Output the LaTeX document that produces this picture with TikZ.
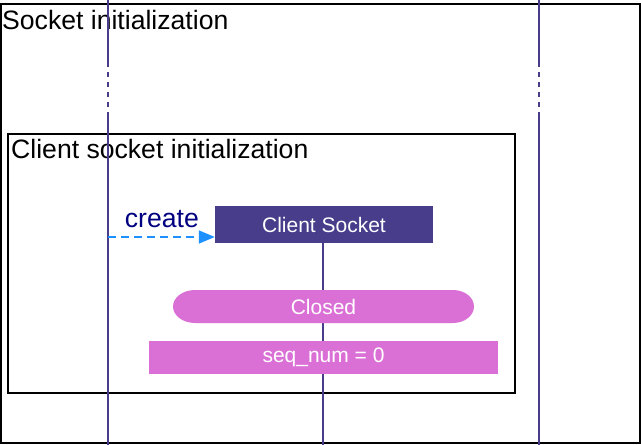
\documentclass[tikz,border=0pt]{standalone}
\usepackage{fontspec}
\setmainfont{Liberation Sans}
\usetikzlibrary{calc}
\usetikzlibrary{arrows.meta}

\definecolor{lifeblue}{RGB}{72,61,139}
\definecolor{orchidfill}{RGB}{218,112,214}
\definecolor{createblue}{RGB}{30,144,255}
\definecolor{navytext}{RGB}{0,0,128}

\begin{document}
\begin{tikzpicture}[x=1pt,y=-1pt,
    lifeline/.style={draw=lifeblue,line width=1.6pt},
    framebox/.style={draw=black,line width=2pt},
    bigtext/.style={inner sep=0pt,font=\fontsize{26.6}{30}\selectfont},
    statebox/.style={fill=orchidfill,text=white,inner sep=0pt,font=\fontsize{21}{25}\selectfont}]
            % Define the positions of the lifelines
            \def\xa{108}  % client side
            \def\xb{323}  % client socket
            \def\xc{539}  % server side
            \def\dtop{62} % dashed part starts
            \def\dbot{113} % dashed part ends

            \useasboundingbox (0,0) rectangle (641,445);

            % Draw the frames
            \draw[framebox] (1,4) rectangle (640,443);
            \draw[framebox,line width=2.4pt] (8,134) rectangle (515,393);

            % Frame titles
            \node[bigtext,anchor=base west] (sockinit) at (2,29) {Socket initialization};
            \node[bigtext,anchor=base west] (clientinit) at (11,158) {Client socket initialization};

            % Draw the outer lifelines
            \foreach \x in {\xa,\xc} {
              \draw[lifeline] (\x,0) -- (\x,\dtop);
              \draw[lifeline,dash pattern=on 5pt off 5pt] (\x,\dtop) -- (\x,\dbot);
              \draw[lifeline] (\x,\dbot) -- (\x,445);
            }

            % Client socket and its lifeline
            \node[fill=lifeblue,text=white,inner sep=0pt,minimum width=218,minimum height=37,
                  font=\fontsize{21}{25}\selectfont] (csock) at (324,224.5) {Client Socket};
            \coordinate (cend) at (\xb,445);
            \draw[lifeline] (csock.south -| cend) -- (cend);

            % Create message
            \coordinate (crt) at (\xa,237);
            \draw[createblue,line width=1.6pt,dash pattern=on 8pt off 5pt,
                  -{Triangle[length=16pt,width=13pt]}] (crt) -- (crt -| csock.west);
            \node[bigtext,text=navytext,anchor=base east] (create) at (199,227) {create};

            % Draw the states
            \fill[orchidfill] (195,290) -- (453,290) arc[start angle=-90,end angle=90,x radius=21,y radius=16.5]
                  -- (195,323) arc[start angle=90,end angle=270,x radius=22,y radius=16.5] -- cycle;
            \node[text=white,inner sep=0pt,font=\fontsize{21}{25}\selectfont] (closed) at (323.5,306.5) {Closed};
            \node[statebox,minimum width=349,minimum height=33] (seqnum) at (323.5,357.75) {seq\_num = 0};
\end{tikzpicture}
\end{document}
